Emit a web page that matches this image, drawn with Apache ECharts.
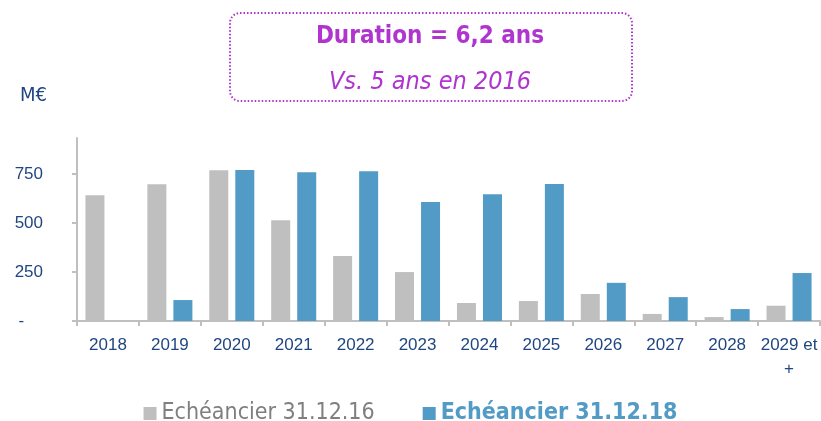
<!DOCTYPE html>
<html>
<head>
<meta charset="utf-8">
<script src="https://cdn.jsdelivr.net/npm/echarts@6/dist/echarts.min.js"></script>
<style>
  html, body { margin: 0; padding: 0; background: #fff; }
  #chart { width: 821px; height: 421px; }
</style>
</head>
<body>
<div id="chart"></div>
<script>
// années d'échéance
const years = ['2018', '2019', '2020', '2021', '2022', '2023', '2024', '2025', '2026', '2027', '2028', '2029 et\n+'];
// échéancier au 31.12.16 (M€)
const sched2016 = [643, 699, 770, 515, 332, 250, 92, 102, 138, 36, 20, 78];
// échéancier au 31.12.18 (M€)
const sched2018 = [0, 107, 772, 760, 765, 608, 647, 700, 195, 122, 61, 245];
const yTicks = [0, 250, 500, 750];

const gray = '#bfbfbf';
const blue = '#519bc6';
const navy = '#1f4680';
const purple = '#b034cf';

const chartDom = document.getElementById('chart');
const chart = echarts.init(chartDom);

const option = {
    animation: false,
    grid: { left: 77, right: 1, top: 138, bottom: 100 },
    graphic: [
        {
            type: 'rect',
            shape: { x: 230, y: 13, width: 402, height: 88, r: 10 },
            style: { fill: 'none', stroke: purple, lineWidth: 2, lineDash: [1.5, 2] }
        },
        {
            type: 'text', x: 430, y: 37,
            style: { text: 'Duration = 6,2 ans', fill: purple, font: 'bold 24px "DejaVu Sans Condensed", "DejaVu Sans"', align: 'center', verticalAlign: 'middle' }
        },
        {
            type: 'text', x: 430, y: 82,
            style: { text: 'Vs. 5 ans en 2016', fill: purple, font: 'italic 25px "DejaVu Sans Condensed", "DejaVu Sans"', align: 'center', verticalAlign: 'middle' }
        },
        {
            type: 'text', x: 20, y: 96,
            style: { text: 'M€', fill: navy, font: '20px "DejaVu Sans Condensed", "DejaVu Sans"', verticalAlign: 'middle' }
        }
    ],
    legend: {
        top: 397,
        left: 'center',
        itemWidth: 13,
        itemHeight: 13,
        itemGap: 48,
        itemTextGap: 4,
        icon: 'rect',
        textStyle: { fontSize: 23, fontFamily: '"DejaVu Sans Condensed", "DejaVu Sans"' },
        data: [
            { name: 'Echéancier 31.12.16', textStyle: { color: '#7f7f7f' } },
            { name: 'Echéancier 31.12.18', textStyle: { color: blue, fontWeight: 'bold' } }
        ]
    },
    xAxis: {
        type: 'category',
        data: years,
        axisLine: { lineStyle: { color: gray, width: 2 } },
        axisTick: { show: true, lineStyle: { color: gray, width: 2 }, length: 5 },
        axisLabel: { interval: 0, color: navy, fontSize: 17, fontFamily: '"Liberation Sans"', margin: 12, lineHeight: 24 }
    },
    yAxis: {
        type: 'value',
        min: 0,
        max: 935,
        interval: 250,
        splitLine: { show: false },
        axisLine: { show: true, lineStyle: { color: gray, width: 2 } },
        axisTick: { show: true, length: 5, lineStyle: { color: gray, width: 2 } },
        axisLabel: {
            color: navy, fontSize: 17, fontFamily: '"Liberation Sans"', margin: 34,
            showMaxLabel: false,
            formatter: function (v) {
                if (yTicks.indexOf(v) < 0) return '';
                return v === 0 ? '-    ' : String(v);
            }
        }
    },
    series: [
        {
            name: 'Echéancier 31.12.16',
            type: 'bar',
            data: sched2016,
            barWidth: 19,
            barGap: '37%',
            itemStyle: { color: gray }
        },
        {
            name: 'Echéancier 31.12.18',
            type: 'bar',
            data: sched2018,
            barWidth: 19,
            itemStyle: { color: blue }
        }
    ]
};

chart.setOption(option);
</script>
</body>
</html>
